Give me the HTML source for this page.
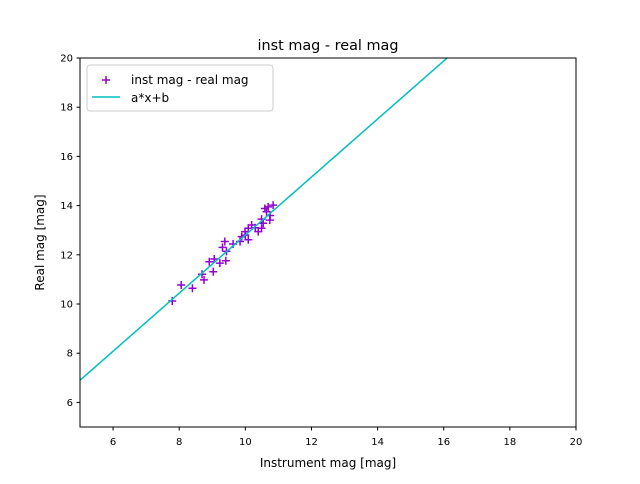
<!DOCTYPE html>
<html><head><meta charset="utf-8"><style>
body{margin:0;background:#fff;font-family:"DejaVu Sans","Liberation Sans",sans-serif;}
svg text{font-family:"DejaVu Sans","Liberation Sans",sans-serif;}
</style></head><body>
<svg id="chart" width="640" height="480" xmlns="http://www.w3.org/2000/svg">
<rect width="640" height="480" fill="#fff"/>
<text x="328" y="50" text-anchor="middle" font-size="14.4">inst mag - real mag</text>
<g id="plot"></g>
<rect x="80" y="58" width="496" height="369" fill="none" stroke="#000" stroke-width="1"/>
<g id="axes"></g>
<text x="328" y="467" text-anchor="middle" font-size="12">Instrument mag [mag]</text>
<text transform="translate(44,242.5) rotate(-90)" text-anchor="middle" font-size="12">Real mag [mag]</text>
<g>
<rect x="87" y="65" width="186" height="46" rx="3" fill="#fff" fill-opacity="0.8" stroke="#ccc"/>
<g stroke="#9400d3" stroke-width="1.5"><line x1="106" y1="76" x2="106" y2="84"/><line x1="102" y1="80" x2="110" y2="80"/></g>
<text x="131" y="84" font-size="12">inst mag - real mag</text>
<line x1="92" y1="97" x2="120" y2="97" stroke="#00bfbf" stroke-width="1.5"/>
<text x="131" y="102" font-size="12">a*x+b</text>
</g>
</svg>
<script>
const xTicks=[6,8,10,12,14,16,18,20];
const yTicks=[6,8,10,12,14,16,18,20];
const instMag=[7.79,8.06,8.4,8.69,8.75,8.91,9.03,9.06,9.23,9.41,9.38,9.31,9.43,9.63,9.84,9.89,10.09,9.99,10.09,10.19,10.39,10.49,10.54,10.49,10.74,10.64,10.69,10.84,10.59,10.75,10.3,10.0];
const realMag=[10.12,10.77,10.64,11.21,10.98,11.72,11.31,11.83,11.66,11.76,12.54,12.30,12.14,12.44,12.54,12.74,12.61,12.94,13.08,13.21,12.94,13.08,13.28,13.45,13.41,13.75,13.95,14.02,13.88,13.6,13.1,12.8];
const fitA=1.18, fitB=1.0;
const xDomain=[5,20], yDomain=[5,20];
const NS="http://www.w3.org/2000/svg";
const X=v=>80+(v-xDomain[0])/(xDomain[1]-xDomain[0])*496;
const Y=v=>427-(v-yDomain[0])/(yDomain[1]-yDomain[0])*369;
const plot=document.getElementById('plot'), axes=document.getElementById('axes');
function mk(t,a,p){const e=document.createElementNS(NS,t);for(const k in a)e.setAttribute(k,a[k]);p.appendChild(e);return e;}
// clip
const cp=mk('clipPath',{id:'clip'},plot);mk('rect',{x:80,y:58,width:496,height:369},cp);
const g=mk('g',{'clip-path':'url(#clip)'},plot);
instMag.forEach((v,i)=>{
  const p=mk('path',{d:`M${X(v)-4},${Y(realMag[i])}h8M${X(v)},${Y(realMag[i])-4}v8`,stroke:'#9400d3','stroke-width':1.5,fill:'none'},g);
  
  
});
const fl=mk('line',{x1:X(xDomain[0]),y1:Y(fitA*xDomain[0]+fitB),x2:X(xDomain[1]),y2:Y(fitA*xDomain[1]+fitB),stroke:'#00bfbf','stroke-width':1.5},g);


xTicks.forEach(t=>{
  mk('line',{x1:X(t),y1:427,x2:X(t),y2:430.5,stroke:'#000'},axes);
  const tx=mk('text',{x:X(t),y:445,'text-anchor':'middle','font-size':10},axes);tx.textContent=t;
  
  
});
yTicks.forEach(t=>{
  mk('line',{x1:76.5,y1:Y(t),x2:80,y2:Y(t),stroke:'#000'},axes);
  const tx=mk('text',{x:73,y:Y(t)+3.5,'text-anchor':'end','font-size':10},axes);tx.textContent=t;
  
  
});
</script>
</body></html>
